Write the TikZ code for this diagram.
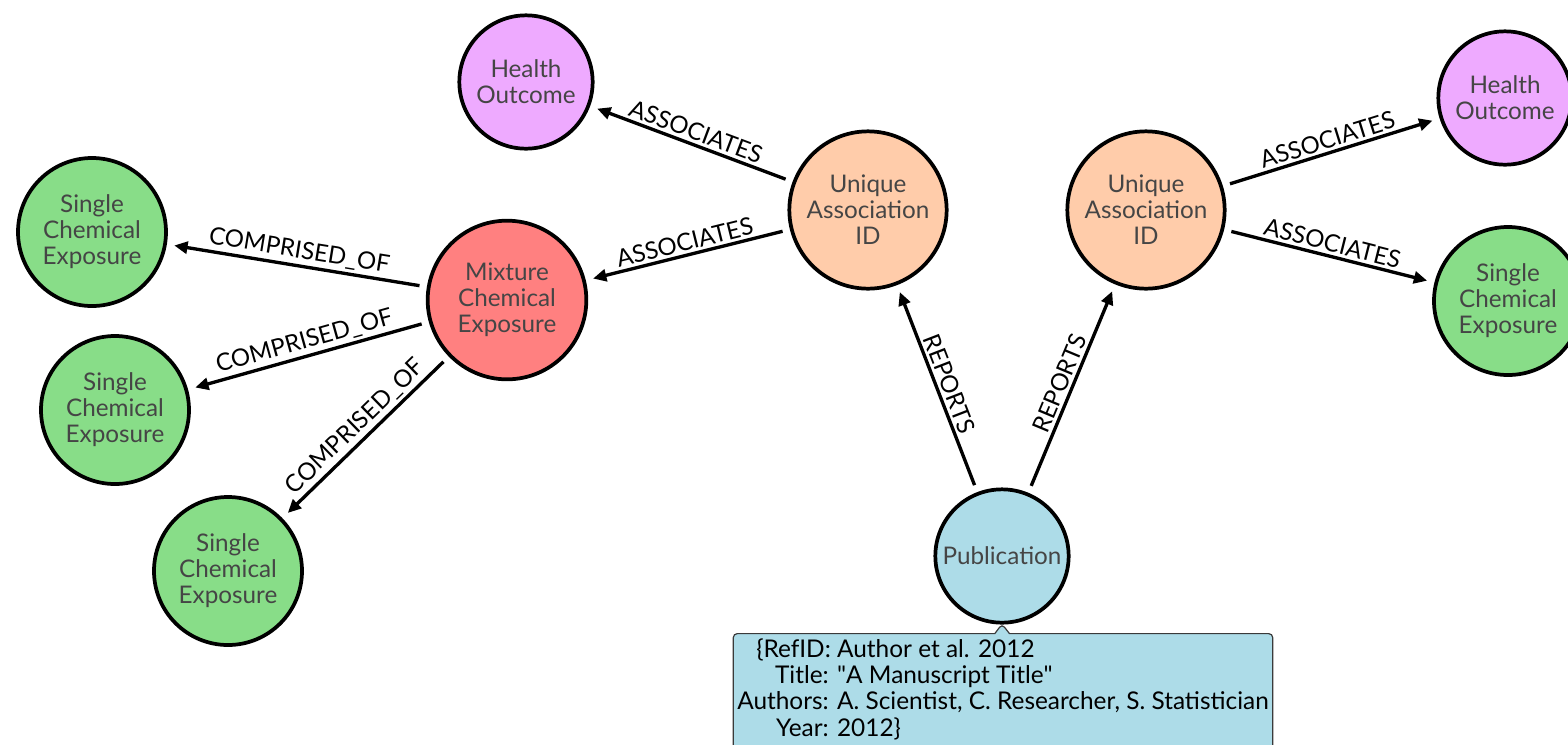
\documentclass[tikz,border=0pt]{standalone}
\usepackage{fontspec}
\setmainfont{Lato}
\usetikzlibrary{arrows.meta,shapes.callouts}

\definecolor{singlegreen}{HTML}{88DD88}
\definecolor{mixred}{HTML}{FF8080}
\definecolor{healthpink}{HTML}{EEAAFF}
\definecolor{assocpeach}{HTML}{FFCCAA}
\definecolor{pubblue}{HTML}{ADDCE8}
\definecolor{nodetext}{HTML}{454545}
\definecolor{noteline}{HTML}{3A3A3A}

\tikzset{
  entity/.style={circle, draw=black, line width=2.8pt, text=nodetext, align=center,
    inner sep=0pt, outer sep=7pt, font=\fontsize{18.2}{19.5}\selectfont},
  single/.style={entity, fill=singlegreen, minimum size=111pt},
  mixture/.style={entity, fill=mixred, minimum size=119pt},
  health/.style={entity, fill=healthpink, minimum size=100pt},
  assoc/.style={entity, fill=assocpeach, minimum size=118pt},
  publ/.style={entity, fill=pubblue, minimum size=100pt},
  rel/.style={-{Triangle[length=10pt,width=9pt]}, line width=2.5pt},
  rellabel/.style={midway, sloped, above, inner sep=2pt, font=\fontsize{18}{19.5}\selectfont},
  refnote/.style={rectangle callout, draw=noteline, fill=pubblue, line width=0.9pt,
    rounded corners=3pt, callout pointer width=11pt, inner xsep=3pt, inner ysep=4pt,
    font=\fontsize{18.3}{19.5}\selectfont}
}

\begin{document}
\begin{tikzpicture}[x=0.75pt,y=0.75pt]
\useasboundingbox (0,0) rectangle (1568,-744);

% Entity nodes
\node [health] (ho1) at (526,-82) {Health\\Outcome};
\node [assoc] (ua1) at (868,-210) {Unique\\Association\\ID};
\node [mixture] (mix) at (507,-300) {Mixture\\Chemical\\Exposure};
\node [single] (s1) at (92,-232) {Single\\Chemical\\Exposure};
\node [single] (s2) at (115,-410) {Single\\Chemical\\Exposure};
\node [single] (s3) at (228,-571) {Single\\Chemical\\Exposure};
\node [assoc] (ua2) at (1146,-210) {Unique\\Association\\ID};
\node [health] (ho2) at (1505,-98) {Health\\Outcome};
\node [single] (sr) at (1508,-301) {Single\\Chemical\\Exposure};
\node [publ] (pub) at (1002,-556) {Publication};

% Relationships
\draw [rel] (ua1) -- node [rellabel] {ASSOCIATES} (ho1);
\draw [rel] (ua1) -- node [rellabel] {ASSOCIATES} (mix);
\draw [rel] (mix) -- node [rellabel] {COMPRISED\_OF} (s1);
\draw [rel] (mix) -- node [rellabel] {COMPRISED\_OF} (s2);
\draw [rel] (mix) -- node [rellabel] {COMPRISED\_OF} (s3);
\draw [rel] (ua2) -- node [rellabel] {ASSOCIATES} (ho2);
\draw [rel] (ua2) -- node [rellabel] {ASSOCIATES} (sr);
\draw [rel] (pub) -- node [rellabel] {REPORTS} (ua1);
\draw [rel] (pub) -- node [rellabel] {REPORTS} (ua2);

% Property box
\coordinate (pubtip) at (1002,-624);
\node [refnote, callout absolute pointer={(pubtip)}, anchor=north] (note) at (1003,-633)
  {\begin{tabular}{@{}r@{ }l@{}}
    \{RefID: & Author et al. 2012\\
    Title: & \textquotedbl A Manuscript Title\textquotedbl\\
    Authors: & A. Scientist, C. Researcher, S. Statistician\\
    Year: & 2012\}\\
  \end{tabular}};
\end{tikzpicture}
\end{document}
